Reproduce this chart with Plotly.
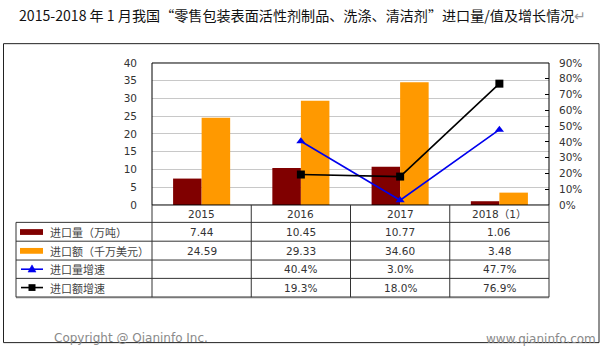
import plotly.graph_objects as go

# ---------------- data ----------------
categories = ["2015", "2016", "2017", "2018（1）"]
import_volume = [7.44, 10.45, 10.77, 1.06]          # 万吨
import_value = [24.59, 29.33, 34.60, 3.48]          # 千万美元
volume_growth = [None, 40.4, 3.0, 47.7]             # %
value_growth = [None, 19.3, 18.0, 76.9]             # %
series_names = ["进口量（万吨）", "进口额（千万美元）", "进口量增速", "进口额增速"]
left_ticks = [0, 5, 10, 15, 20, 25, 30, 35, 40]
right_ticks = [0, 10, 20, 30, 40, 50, 60, 70, 80, 90]
title_text = "2015-2018 年 1 月我国“零售包装表面活性剂制品、洗涤、清洁剂”进口量/值及增长情况"

# ---------------- geometry (pixels) ----------------
W, H = 604, 352
PL, PR, PT, PB = 152, 549, 59, 206
TL = 16
row_lines = [224, 243.5, 263, 282, 301.5]

def fx(x):
    return x / W

def fy(y):
    return 1 - y / H

DARK_RED = "#800000"
ORANGE = "#FF9900"
BLUE = "#0000EE"
NUM_FONT = "DejaVu Sans"
CJK_FONT = "Noto Sans CJK SC"
TXT = "#333333"

fig = go.Figure()

fig.add_trace(go.Bar(x=categories, y=import_volume, name=series_names[0],
                     marker=dict(color=DARK_RED, line=dict(width=0))))
fig.add_trace(go.Bar(x=categories, y=import_value, name=series_names[1],
                     marker=dict(color=ORANGE, line=dict(width=0))))
fig.add_trace(go.Scatter(x=categories, y=volume_growth, name=series_names[2], yaxis="y2",
                         mode="lines+markers", line=dict(color=BLUE, width=1.6),
                         marker=dict(symbol="triangle-up", size=8, color=BLUE)))
fig.add_trace(go.Scatter(x=categories, y=value_growth, name=series_names[3], yaxis="y2",
                         mode="lines+markers", line=dict(color="black", width=1.6),
                         marker=dict(symbol="square", size=8, color="black")))

shapes = []
def line(x0, y0, x1, y1, color="black", width=1):
    shapes.append(dict(type="line", xref="paper", yref="paper", x0=fx(x0), y0=fy(y0),
                       x1=fx(x1), y1=fy(y1), line=dict(color=color, width=width)))

def rect(x0, y0, x1, y1, fill=None, color="black", width=1):
    d = dict(type="rect", xref="paper", yref="paper", x0=fx(x0), y0=fy(y0), x1=fx(x1), y1=fy(y1),
             line=dict(color=color, width=width))
    if fill:
        d["fillcolor"] = fill
    shapes.append(d)

# outer frame
rect(3.5, 39, 599, 348.5, color="#222222")
# plot frame
rect(PL, PT, PR, PB, color="black")
# table
n = len(categories)
col_w = (PR - PL) / n
col_edges = [PL + i * col_w for i in range(n + 1)]
for yv in row_lines[:-1]:
    line(TL, yv, PR, yv, "#333333")
line(TL, row_lines[-1], PR, row_lines[-1], "#777777", 2)
line(TL, row_lines[0], TL, row_lines[-1], "#333333")
for xe in col_edges:
    line(xe, PB, xe, row_lines[-1], "#333333")

# keys for bar series
rect(20, 231, 43, 237, fill=DARK_RED, width=0)
rect(20, 250.5, 43, 256.5, fill=ORANGE, width=0)
# keys for line series
line(21, 272.5, 43, 272.5, BLUE, 1.6)
shapes.append(dict(type="path", xref="paper", yref="paper",
                   path=f"M {fx(28)},{fy(275.5)} L {fx(36)},{fy(275.5)} L {fx(32)},{fy(268)} Z",
                   fillcolor=BLUE, line=dict(color=BLUE, width=0.5)))
line(21, 291.5, 43, 291.5, "black", 1.6)
rect(28.5, 288, 35.5, 295, fill="black", width=0)

annotations = []
def text(x, y, s, size=10, font=NUM_FONT, color=TXT, xanchor="center"):
    annotations.append(dict(xref="paper", yref="paper", x=fx(x), y=fy(y), text=s, showarrow=False,
                            xanchor=xanchor, yanchor="middle",
                            font=dict(family=font, size=size, color=color)))

text(302, 9, title_text + "<span style='color:#999999'>↵</span>", size=14.1, font=CJK_FONT, color="#111111")

centers = [(col_edges[i] + col_edges[i + 1]) / 2 for i in range(n)]
for i, c in enumerate(categories):
    text(centers[i], 215, c, size=10.5, font=NUM_FONT + ", " + CJK_FONT)

row_centers = [(row_lines[i] + row_lines[i + 1]) / 2 for i in range(4)]
for r, nm in enumerate(series_names):
    text(48, row_centers[r], nm, size=11, font=CJK_FONT, color="#444444", xanchor="left")

rows = [
    [f"{v:.2f}" for v in import_volume],
    [f"{v:.2f}" for v in import_value],
    ["" if v is None else f"{v:.1f}%" for v in volume_growth],
    ["" if v is None else f"{v:.1f}%" for v in value_growth],
]
for r, vals in enumerate(rows):
    for i, s in enumerate(vals):
        if s:
            text(centers[i], row_centers[r], s, size=10.5)

text(52, 344, "Copyright @ Qianinfo Inc.", size=12, color="#8a8a8a", xanchor="left")
text(598, 345, "www.qianinfo.com", size=12, color="#8a8a8a", xanchor="right")

fig.update_layout(
    width=W, height=H, margin=dict(l=0, r=0, t=0, b=0),
    paper_bgcolor="white", plot_bgcolor="white",
    barmode="group", bargap=0.425, bargroupgap=0,
    showlegend=False,
    shapes=shapes, annotations=annotations,
    xaxis=dict(domain=[fx(PL), fx(PR)], showticklabels=False, ticks="", showgrid=False,
               showline=False, zeroline=False, fixedrange=True),
    yaxis=dict(domain=[fy(PB), fy(PT)], range=[0, 40], tickvals=left_ticks,
               showgrid=True, gridcolor="#c8c8c8", gridwidth=1, zeroline=False,
               ticks="", ticklabelstandoff=14,
               tickfont=dict(family=NUM_FONT, size=10.5, color=TXT)),
    yaxis2=dict(overlaying="y", side="right", range=[0, 90], tickvals=right_ticks,
                ticktext=[f"{v}%" for v in right_ticks], showgrid=False, zeroline=False,
                ticks="inside", ticklen=4, tickcolor="black", ticklabelstandoff=9,
                tickfont=dict(family=NUM_FONT, size=10.5, color=TXT)),
)

fig.write_html("out.html")
